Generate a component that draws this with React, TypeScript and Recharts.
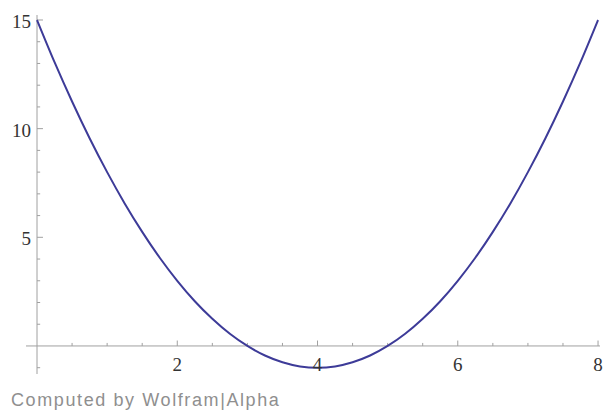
import { LineChart, Line, XAxis, YAxis, ReferenceLine } from "recharts";

// values (x step 0.25)
const xs = [
  0, 0.25, 0.5, 0.75, 1, 1.25, 1.5, 1.75, 2, 2.25, 2.5, 2.75, 3, 3.25, 3.5, 3.75, 4,
  4.25, 4.5, 4.75, 5, 5.25, 5.5, 5.75, 6, 6.25, 6.5, 6.75, 7, 7.25, 7.5, 7.75, 8,
];
const ys = [
  15, 13.06, 11.25, 9.56, 8, 6.56, 5.25, 4.06, 3, 2.06, 1.25, 0.56, 0, -0.44, -0.75, -0.94, -1,
  -0.94, -0.75, -0.44, 0, 0.56, 1.25, 2.06, 3, 4.06, 5.25, 6.56, 8, 9.56, 11.25, 13.06, 15,
];
const xMajor = [2, 4, 6, 8];
const xMinor = [0.5, 1, 1.5, 2.5, 3, 3.5, 4.5, 5, 5.5, 6.5, 7, 7.5];
const yMajor = [5, 10, 15];
const yMinor = [-1, 1, 2, 3, 4, 6, 7, 8, 9, 11, 12, 13, 14];

const data = xs.map((x, i) => ({ x, y: ys[i] }));

const AXIS = "#a0a0a0";
const CURVE = "#3d3b98";
const LABEL = { fontFamily: "'Liberation Serif', 'Times New Roman', serif", fontSize: 19, fill: "#333" };

const xTick = ({ x, y, payload }: any) => (
  <text x={x} y={y - 3} textAnchor="middle" {...LABEL}>
    {payload.value}
  </text>
);

const yTick = ({ x, y, payload }: any) => (
  <text x={x + 5} y={y + 8} textAnchor="end" {...LABEL}>
    {payload.value}
  </text>
);

export default function App() {
  return (
    <div style={{ position: "absolute", left: 0, top: 0, width: 604, height: 412, background: "#fff" }}>
      <LineChart width={604} height={412} data={data} margin={{ top: 15, right: 4, bottom: 0, left: 0 }}>
        <XAxis
          dataKey="x"
          type="number"
          domain={[-0.157, 8.028]}
          allowDataOverflow
          ticks={xMajor}
          interval={0}
          height={38}
          axisLine={false}
          tickLine={false}
          tickSize={0}
          tickMargin={0}
          tick={xTick}
        />
        <YAxis
          type="number"
          domain={[-1.29, 15.23]}
          allowDataOverflow
          ticks={yMajor}
          interval={0}
          width={26}
          axisLine={false}
          tickLine={false}
          tickSize={0}
          tickMargin={0}
          tick={yTick}
        />
        <ReferenceLine y={0} stroke={AXIS} strokeWidth={1} />
        <ReferenceLine x={0} stroke={AXIS} strokeWidth={1} />
        {xMajor.map((t) => (
          <ReferenceLine key={"xM" + t} segment={[{ x: t, y: 0 }, { x: t, y: 0.25 }]} stroke={AXIS} />
        ))}
        {xMinor.map((t) => (
          <ReferenceLine key={"xm" + t} segment={[{ x: t, y: 0 }, { x: t, y: 0.14 }]} stroke={AXIS} />
        ))}
        {yMajor.map((t) => (
          <ReferenceLine key={"yM" + t} segment={[{ x: 0, y: t }, { x: 0.085, y: t }]} stroke={AXIS} />
        ))}
        {yMinor.map((t) => (
          <ReferenceLine key={"ym" + t} segment={[{ x: 0, y: t }, { x: 0.045, y: t }]} stroke={AXIS} />
        ))}
        <Line
          type="monotone"
          dataKey="y"
          stroke={CURVE}
          strokeWidth={2}
          dot={false}
          activeDot={false}
          isAnimationActive={false}
        />
      </LineChart>
      <div
        style={{
          position: "absolute",
          left: 11,
          top: 389,
          fontFamily: "'Liberation Sans', Arial, sans-serif",
          fontSize: 18,
          letterSpacing: 1.6,
          color: "#8f8f8f",
          lineHeight: "22px",
          whiteSpace: "nowrap",
        }}
      >
        Computed by Wolfram|Alpha
      </div>
    </div>
  );
}
